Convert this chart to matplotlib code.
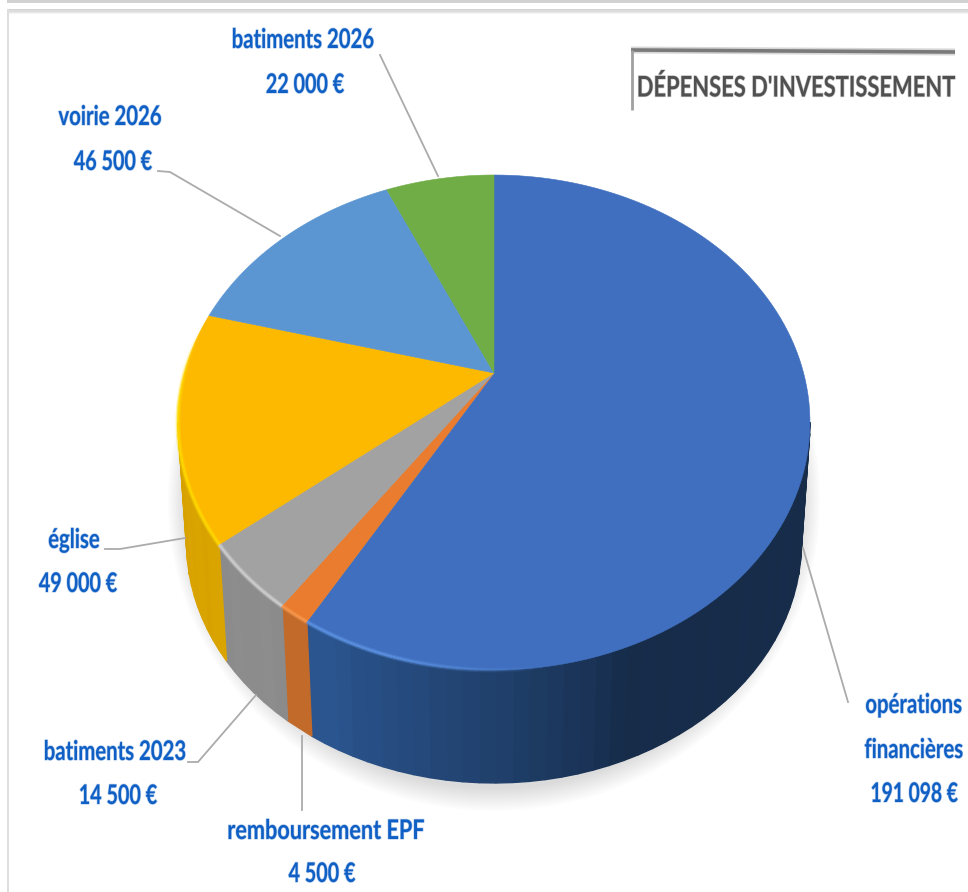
import numpy as np
import matplotlib
matplotlib.use("Agg")
import matplotlib.pyplot as plt
from matplotlib.colors import to_rgb
from matplotlib.patheffects import AbstractPathEffect
from matplotlib.transforms import Affine2D

# === Data ===
categories = ["opérations financières", "remboursement EPF", "batiments 2023", "église", "voirie 2026", "batiments 2026"]
values = [191098, 4500, 14500, 49000, 46500, 22000]
top_colors = ["#406fbf", "#e97c2e", "#a2a2a2", "#fdb900", "#5b96d2", "#70ad47"]
side_colors = ["#2b5690", "#c06a2a", "#8c8c8c", "#d9a300", "#4a80b0", "#5a8c3a"]
rim_colors = ["#5f95e6", "#fa9a50", "#d4d4d4", "#ffdc00", "#7ab0e0", "#8cc860"]
title = "DÉPENSES D'INVESTISSEMENT"

# === Pie geometry in pixels ===
TIP_X, TIP_Y = 494, 373
A, B, K = 309.6, 237.6, 0.2
SCALE_BOTTOM = 0.973
TIP_Y_BOTTOM = 494

BLUE = "#0f5fc4"
LEADER = "#ababab"
FONT = ["Lato", "DejaVu Sans"]


class Condensed(AbstractPathEffect):
    # squeeze text horizontally around its anchor (Calibri is narrower than Lato)
    def __init__(self, sx, x_anchor):
        super().__init__()
        self.sx = sx
        self.x_anchor = x_anchor

    def draw_path(self, renderer, gc, tpath, affine, rgbFace=None):
        aff = affine + Affine2D().translate(-self.x_anchor, 0).scale(self.sx, 1).translate(self.x_anchor, 0)
        gc0 = renderer.new_gc()
        gc0.copy_properties(gc)
        gc0.set_linewidth(0.9)
        gc0.set_foreground(rgbFace)
        gc0.set_alpha(0.3)
        renderer.draw_path(gc0, tpath, aff, None)
        gc0.restore()
        renderer.draw_path(gc, tpath, aff, rgbFace)


def project(phi, scale=1.0, tip_y=TIP_Y, r=1.0):
    # phi = clockwise angle from the top, degrees
    u = r * np.sin(np.radians(phi))
    v = r * np.cos(np.radians(phi))
    d = 1 + K * v
    return TIP_X + scale * A * u / d, tip_y - scale * B * v / d


def shade(phi):
    # darker towards the right of the side wall
    return np.interp(phi, [101, 160, 165, 172, 179, 195, 208, 260], [0.51, 0.51, 0.59, 0.66, 0.74, 0.88, 1.0, 1.0])


fig = plt.figure(figsize=(9.68, 8.92), dpi=100)
ax = fig.add_axes([0, 0, 1, 1])
ax.set_xlim(0, 968)
ax.set_ylim(892, 0)
ax.axis("off")

# === Frame of the screenshot ===
ax.fill_between([7, 968], 0, 2.5, color="#d2d2d2", lw=0)
for i, c in enumerate(["#d4d4d4", "#dcdcdc", "#e8e8e8", "#f4f4f4"]):
    ax.fill_between([7, 968], 9 + i * 1.3, 10.3 + i * 1.3, color=c, lw=0)
ax.fill_between([7, 9], 9, 892, color="#dedede", lw=0)

# === Soft shadow below the pie ===
theta = np.linspace(0, 2 * np.pi, 200)
for grow in range(24, 0, -2):
    ax.fill(494 + (307 + grow * 0.8) * np.cos(theta), 500 + (287 + grow) * np.sin(theta),
            color="#000000", alpha=0.012, lw=0, zorder=1)

# === Slices ===
angles = np.cumsum([0] + values) / sum(values) * 360

# side wall, strip by strip
SIDE_MIN, SIDE_MAX = 101.5, 258.5
for i in range(len(values)):
    start = max(angles[i], SIDE_MIN)
    end = min(angles[i + 1], SIDE_MAX)
    if end <= start:
        continue
    n = max(2, int((end - start) / 2.5) + 1)
    edges = np.linspace(start, end, n)
    for a0, a1 in zip(edges[:-1], edges[1:]):
        mid = (a0 + a1) / 2
        band = 1 + 0.008 * np.sin(a0 * 0.9)
        col = np.clip(np.array(to_rgb(side_colors[i])) * shade(mid) * band, 0, 1)
        x0t, y0t = project(a0)
        x1t, y1t = project(a1)
        x0b, y0b = project(a0, SCALE_BOTTOM, TIP_Y_BOTTOM)
        x1b, y1b = project(a1, SCALE_BOTTOM, TIP_Y_BOTTOM)
        ax.fill([x0t, x1t, x1b, x0b], [y0t, y1t, y1b, y0b], color=col, lw=1.0, ec=col, zorder=2)

# top face
for i in range(len(values)):
    phi = np.linspace(angles[i], angles[i + 1], 120)
    xs, ys = project(phi)
    ax.fill(np.r_[TIP_X, xs], np.r_[TIP_Y, ys], color=top_colors[i], ec=top_colors[i], lw=0.4, zorder=4)

# bright edge on the front left part of the rim, fading out at both ends
for i in range(len(values)):
    lo, hi = max(angles[i], 172), min(angles[i + 1], 282)
    if hi <= lo:
        continue
    p = np.linspace(lo, hi, int(hi - lo) * 2 + 2)
    for a0, a1 in zip(p[:-1], p[1:]):
        fade = np.interp((a0 + a1) / 2, [172, 196, 262, 282], [0, 1, 1, 0])
        xr, yr = project(np.array([a0, a1]))
        ax.plot(xr, yr, color=rim_colors[i], lw=3.6, alpha=0.35 * fade, zorder=5, solid_capstyle="butt")
        ax.plot(xr, yr, color=rim_colors[i], lw=1.8, alpha=0.75 * fade, zorder=5, solid_capstyle="butt")

# === Leader lines ===
ax.plot([380, 438], [55, 176], color=LEADER, lw=1.3, zorder=6)
ax.plot([158, 170, 280], [171, 172, 236], color=LEADER, lw=1.3, zorder=6)
ax.plot([105, 120, 185], [549, 549, 538], color=LEADER, lw=1.3, zorder=6)
ax.plot([188, 198, 256], [762, 762, 695], color=LEADER, lw=1.3, zorder=6)
ax.plot([302, 302], [736, 810], color=LEADER, lw=1.3, zorder=6)
ax.plot([803, 848], [548, 702], color=LEADER, lw=1.3, zorder=6)

# === Labels ===
labels = [
    ("batiments 2026", 303, 40, 0.75), ("22 000 €", 305, 85, 0.73),
    ("voirie 2026", 110, 117, 0.75), ("46 500 €", 113, 162, 0.73),
    ("église", 74, 540, 0.75), ("49 000 €", 78, 584, 0.73),
    ("batiments 2023", 115, 752, 0.75), ("14 500 €", 118, 796, 0.73),
    ("remboursement EPF", 326, 831, 0.8), ("4 500 €", 322, 874, 0.73),
]
for txt, x, y, sx in labels:
    ax.text(x, y, txt, color=BLUE, fontsize=19.5, family=FONT, fontweight="bold",
            ha="center", va="center", zorder=7, path_effects=[Condensed(sx, x)])

# right column is anchored on its right edge so it stays inside the figure
right_labels = [("opérations", 962, 705, 0.75), ("financières", 963, 750, 0.75), ("191 098 €", 958, 794, 0.71)]
for txt, x, y, sx in right_labels:
    ax.text(x, y, txt, color=BLUE, fontsize=19.5, family=FONT, fontweight="bold",
            ha="right", va="center", zorder=7, path_effects=[Condensed(sx, x)])

# === Title box ===
ax.plot([631, 955], [50, 52], color="#8a8a8a", lw=5, alpha=0.35, zorder=6, solid_capstyle="butt")
ax.plot([631, 955], [50, 52], color="#7a7a7a", lw=2.6, zorder=6, solid_capstyle="butt")
ax.plot([632, 632], [50, 110], color="#a0a0a0", lw=2, zorder=6, solid_capstyle="butt")
ax.text(955, 88, title, color="#505050", fontsize=20.5, family=FONT, fontweight="bold",
        ha="right", va="center", zorder=7, path_effects=[Condensed(0.77, 955)])

fig.savefig("out.png", dpi=100)
